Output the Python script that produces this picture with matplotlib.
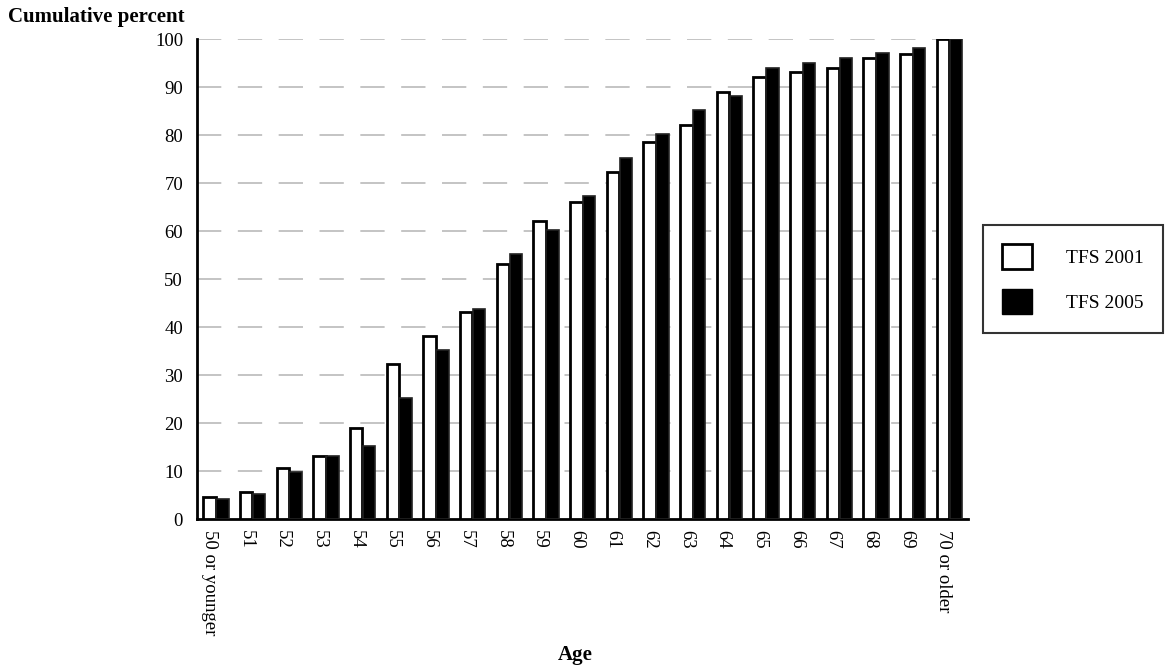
import matplotlib
matplotlib.use("Agg")
import matplotlib.pyplot as plt
import numpy as np
from matplotlib.patches import Patch

categories = ["50 or younger", "51", "52", "53", "54", "55", "56", "57", "58", "59",
              "60", "61", "62", "63", "64", "65", "66", "67", "68", "69", "70 or older"]
tfs2001 = [4.6, 5.7, 10.6, 13.1, 19.0, 32.2, 38.1, 43.1, 53.1, 62.0,
           66.0, 72.2, 78.5, 82.1, 89.0, 92.1, 93.1, 93.9, 96.0, 96.9, 100.0]
tfs2005 = [4.1, 5.3, 9.8, 13.1, 15.3, 25.2, 35.3, 43.8, 55.2, 60.2,
           67.3, 75.3, 80.2, 85.2, 88.1, 94.0, 95.1, 96.0, 97.0, 98.2, 100.0]
yticks = [0, 10, 20, 30, 40, 50, 60, 70, 80, 90, 100]

plt.rcParams['font.family'] = ['Liberation Serif', 'DejaVu Serif']

fig = plt.figure(figsize=(11.69, 6.68), dpi=100)
ax = fig.add_axes([197/1169, 1 - 519/668, (968-197)/1169, (519-39)/668])

x = np.arange(len(categories))
w = 0.34
ax.bar(x - 0.18, tfs2001, width=w, color='white', edgecolor='black', linewidth=2, zorder=3)
ax.bar(x + 0.17, tfs2005, width=w, color='black', edgecolor='#222222', linewidth=1.2, zorder=3)

ax.set_xlim(-0.52, 20.5)
ax.set_ylim(0, 100)
ax.set_yticks(yticks)
ax.set_yticklabels([str(v) for v in yticks], fontsize=13.5)
ax.set_xticks(x - 0.18)
ax.set_xticklabels(categories, rotation=-90, fontsize=13.5, va='top', ha='center')
ax.tick_params(axis='both', length=0, pad=10)
ax.tick_params(axis='x', pad=8)

for v in yticks[1:]:
    ax.axhline(v, color='#c4c4c4', linewidth=1.4, linestyle=(0, (12.5, 8.5)), zorder=1)

for s in ['top', 'right']:
    ax.spines[s].set_visible(False)
for s in ['left', 'bottom']:
    ax.spines[s].set_linewidth(2)
    ax.spines[s].set_color('black')

fig.text(8/1169, 1 - 17/668, "Cumulative percent", fontsize=15, fontweight='bold', va='center', ha='left')
fig.text(575/1169, 1 - 655/668, "Age", fontsize=15, fontweight='bold', va='center', ha='center')

handles = [Patch(facecolor='white', edgecolor='black', linewidth=2, label='TFS 2001'),
           Patch(facecolor='black', edgecolor='black', linewidth=1, label='TFS 2005')]
leg = fig.legend(handles=handles, loc='upper left', bbox_to_anchor=(983/1169, 1 - 225/668),
                 frameon=True, fancybox=False, edgecolor='black', fontsize=14,
                 handlelength=1.5, handleheight=1.6, labelspacing=1.0,
                 borderpad=1.0, handletextpad=1.75, borderaxespad=0)
leg.get_frame().set_linewidth(1.5)

fig.savefig("out.png", dpi=100)
